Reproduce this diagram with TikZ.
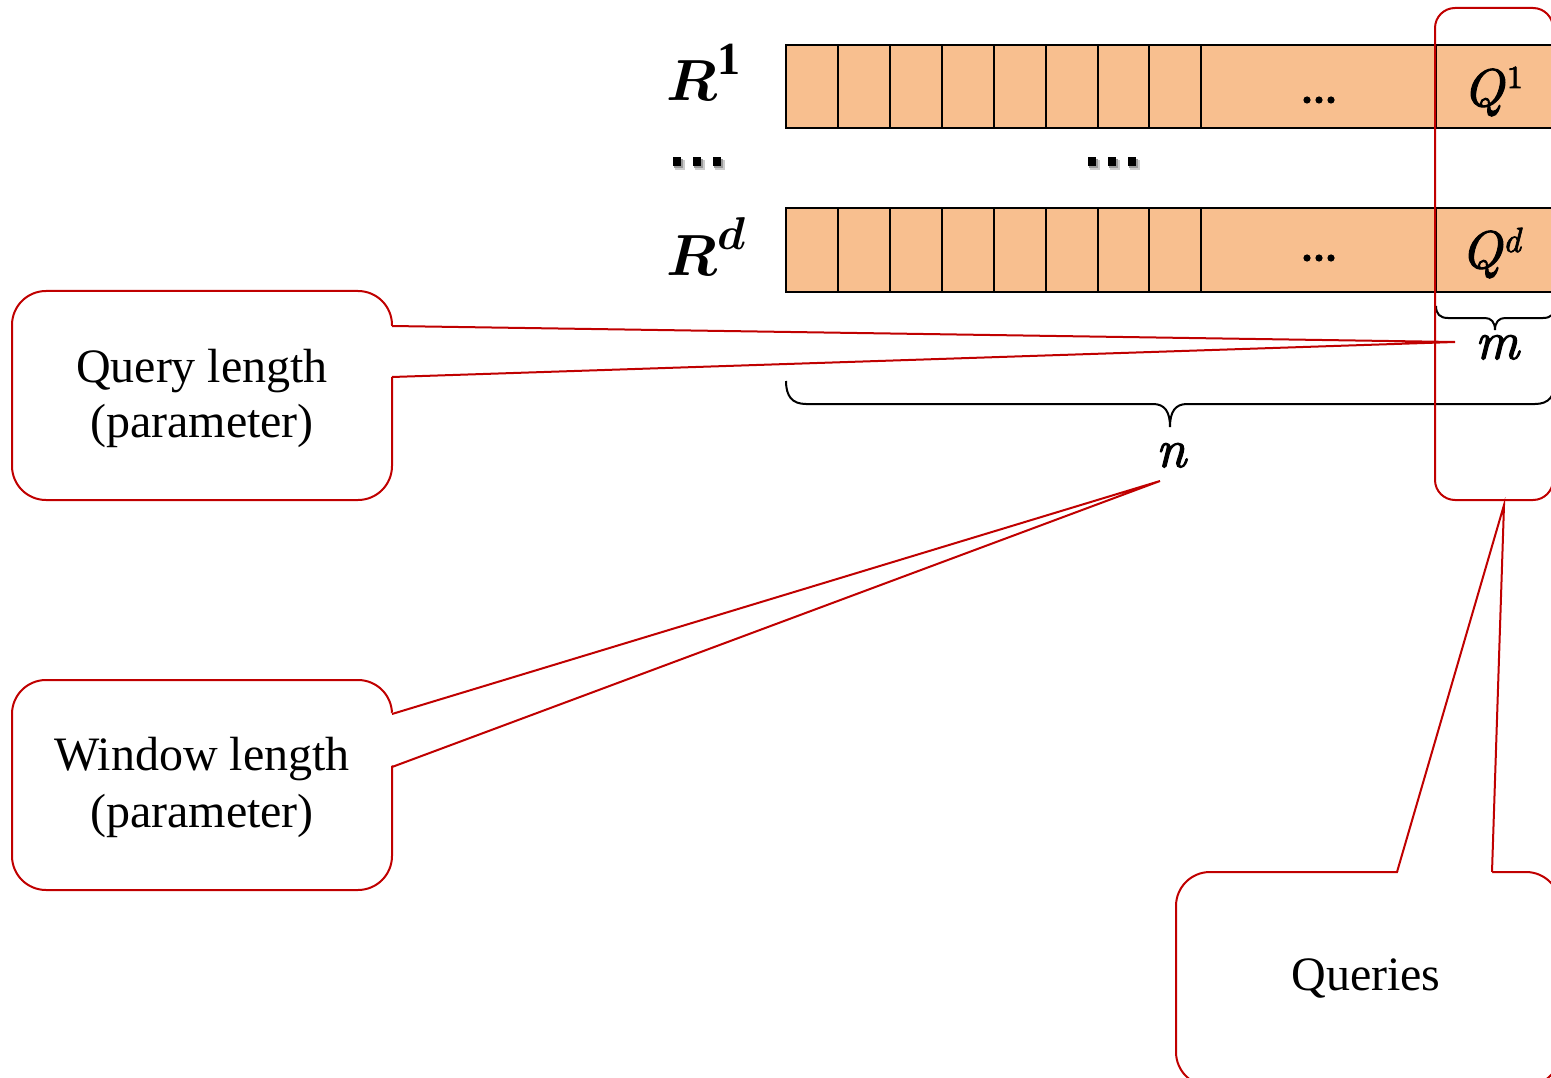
\documentclass[tikz,border=0pt]{standalone}
\usepackage{bm}
\usepackage{fontspec}
\setmainfont{Liberation Serif}
% heavier italic / upright faces for the symbol labels
\newfontfamily\heavyit[FakeBold=2]{lmroman10-italic.otf}
\newfontfamily\heavyup[FakeBold=2.5]{lmroman10-regular.otf}
\definecolor{cellfill}{RGB}{248,191,143}
\definecolor{calloutred}{RGB}{192,0,0}
\tikzset{
  cellrow/.style={fill=cellfill, draw=black, line width=2.6pt},
  celldiv/.style={draw=black, line width=2.6pt},
  callbox/.style={draw=calloutred, line width=2pt, rounded corners=34pt, fill=white},
  pointer/.style={draw=calloutred, line width=2pt, line join=miter},
  bracestroke/.style={draw=black, line width=2pt},
  boxtext/.style={font=\fontsize{48}{56}\selectfont, anchor=base, inner sep=0pt},
  symlabel/.style={inner sep=0pt, anchor=base},
  rowlabel/.style={inner sep=0pt, anchor=base west},
}
\begin{document}
\begin{tikzpicture}[x=1pt,y=-1pt]
\useasboundingbox (0,0) rectangle (1551,1078);
\clip (0,0) rectangle (1551,1078);

% ---- the two series rows ----
\foreach \top/\bot in {45/128, 208/292}{
  \path[cellrow] (786,\top) rectangle (1565,\bot);
  \foreach \xx in {838,890,942,994,1046,1098,1149,1201,1436}{
    \draw[celldiv] (\xx,\top) -- (\xx,\bot);
  }
}

% dots inside the long cells
\foreach \yy in {100,258}{
  \foreach \xx in {1307,1319,1331}{
    \fill (\xx,\yy) circle (3.6pt);
  }
}

% square dots between the rows, with a soft shadow
\foreach \cx in {677,697,717, 1092,1112,1132}{
  \fill[black!20] (\cx-2,160) rectangle (\cx+8,170);
  \fill[black!40] (\cx-3,159) rectangle (\cx+6,168);
  \fill (\cx-4,157) rectangle (\cx+4,166);
}

% row labels
\node[rowlabel] (rone) at (666,101) {\scalebox{5.8}{$\bm{R}$}\raisebox{26pt}{\scalebox{4.6}{$\mathbf{1}$}}};
\node[rowlabel] (rdee) at (666,276) {\scalebox{5.8}{$\bm{R}$}\raisebox{26pt}{\scalebox{4.6}{$\bm{d}$}}};

% query cells
\node[rowlabel] (qone) at (1463,106) {\fontsize{53}{55}\selectfont\heavyit Q\kern3pt\raisebox{18pt}{\fontsize{32}{33}\selectfont\heavyup 1}};
\node[rowlabel] (qdee) at (1461,268) {\fontsize{53}{55}\selectfont\heavyit Q\kern1pt\raisebox{16pt}{\fontsize{35}{36}\selectfont\heavyit d}};

% ---- braces ----
\coordinate (mtip) at (1495,330);
\coordinate (ntip) at (1170,427);
\draw[bracestroke] (1436,306) .. controls (1436,314) and (1440,318) .. (1448,318)
  -- (1485,318) .. controls (1491,318) and (1495,322) .. (mtip)
  .. controls (1495,322) and (1499,318) .. (1505,318)
  -- (1543,318) .. controls (1551,318) and (1555,314) .. (1555,306);
\draw[bracestroke] (786,381) .. controls (786,396) and (792,404) .. (806,404)
  -- (1153,404) .. controls (1165,404) and (1170,412) .. (ntip)
  .. controls (1170,412) and (1175,404) .. (1187,404)
  -- (1535,404) .. controls (1549,404) and (1555,396) .. (1555,381);
\node[symlabel] (mlab) at (1497,359) {\fontsize{54}{56}\selectfont\heavyit m};
\node[symlabel] (nlab) at (1171,467) {\fontsize{54}{56}\selectfont\heavyit n};

% ---- callout: query length ----
\node[callbox, minimum width=380pt, minimum height=209pt] (qlen) at (202,395.5) {};
\coordinate (qlenptr) at (1455,342);
\fill[white] (388,326) -- (qlenptr) -- (388,377) -- cycle;
\draw[pointer] (392,326) -- (qlenptr) -- (392,377);
\node[boxtext] (qlena) at (202,382) {Query length};
\node[boxtext] (qlenb) at (202,437) {(parameter)};

% ---- callout: window length ----
\node[callbox, minimum width=380pt, minimum height=210pt] (wlen) at (202,785) {};
\coordinate (wlenptr) at (1160,481);
\fill[white] (388,714) -- (wlenptr) -- (388,767) -- cycle;
\draw[pointer] (392,714) -- (wlenptr) -- (392,767);
\node[boxtext] (wlena) at (202,770) {Window length};
\node[boxtext] (wlenb) at (202,827) {(parameter)};

% ---- callout: queries ----
\node[callbox, minimum width=384pt, minimum height=214pt] (qbox) at (1368,979) {};
\coordinate (qboxptr) at (1504,505);
\fill[white] (1397,876) -- (qboxptr) -- (1492,876) -- cycle;
\draw[pointer] (1397,872) -- (qboxptr) -- (1492,872);
\node[boxtext] (qboxt) at (1366,990) {Queries};

% frame around the query column
\draw[draw=calloutred, line width=2pt, rounded corners=20pt] (1435,8) rectangle (1553,500);
\end{tikzpicture}
\end{document}
